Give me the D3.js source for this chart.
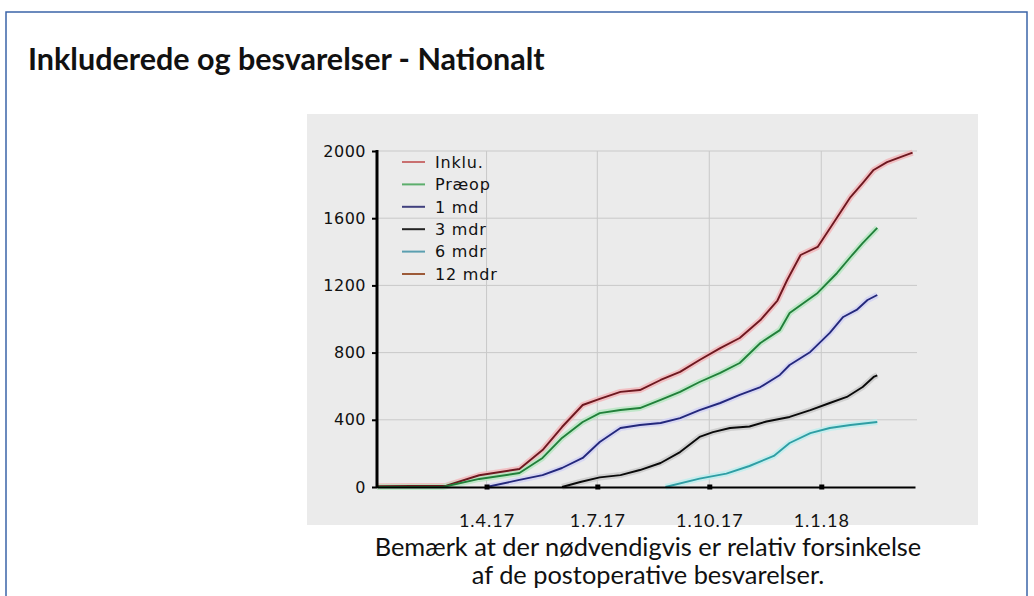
<!DOCTYPE html>
<html>
<head>
<meta charset="utf-8">
<script src="https://cdn.jsdelivr.net/npm/d3@7"></script>
<style>
  body { margin: 0; background: #fff; }
  svg { display: block; }
</style>
</head>
<body>
<div id="chart"></div>
<script>
// values: [date, count]
var inklu = [
    ['2017-01-01', 5], ['2017-02-27', 8], ['2017-03-26', 70], ['2017-04-28', 107],
    ['2017-05-17', 220], ['2017-06-02', 357], ['2017-06-19', 488], ['2017-07-03', 525],
    ['2017-07-20', 566], ['2017-08-05', 577], ['2017-08-22', 637], ['2017-09-07', 685],
    ['2017-09-23', 756], ['2017-10-10', 827], ['2017-10-26', 887], ['2017-11-12', 994],
    ['2017-11-26', 1110], ['2017-12-04', 1232], ['2017-12-15', 1381], ['2017-12-29', 1429],
    ['2018-01-11', 1571], ['2018-01-25', 1726], ['2018-02-04', 1809], ['2018-02-13', 1887],
    ['2018-02-24', 1934], ['2018-03-07', 1964], ['2018-03-17', 1990]
]
var praeop = [
    ['2017-01-01', 0], ['2017-02-24', 0], ['2017-03-26', 48], ['2017-04-28', 83],
    ['2017-05-17', 173], ['2017-06-02', 292], ['2017-06-19', 387], ['2017-07-03', 440],
    ['2017-07-20', 458], ['2017-08-05', 470], ['2017-08-22', 518], ['2017-09-07', 566],
    ['2017-09-23', 625], ['2017-10-10', 679], ['2017-10-26', 738], ['2017-11-12', 857],
    ['2017-11-28', 934], ['2017-12-06', 1036], ['2017-12-29', 1155], ['2018-01-14', 1274],
    ['2018-01-25', 1369], ['2018-02-04', 1452], ['2018-02-16', 1542]
]
var md1 = [
    ['2017-04-01', 0], ['2017-04-28', 42], ['2017-05-17', 71], ['2017-06-02', 113],
    ['2017-06-19', 173], ['2017-07-03', 268], ['2017-07-20', 351], ['2017-08-05', 369],
    ['2017-08-22', 381], ['2017-09-07', 410], ['2017-09-23', 458], ['2017-10-10', 500],
    ['2017-10-26', 548], ['2017-11-12', 595], ['2017-11-28', 667], ['2017-12-06', 726],
    ['2017-12-23', 804], ['2018-01-08', 917], ['2018-01-19', 1012], ['2018-01-30', 1054],
    ['2018-02-08', 1113], ['2018-02-16', 1143]
]
var mdr3 = [
    ['2017-06-02', 0], ['2017-06-17', 30], ['2017-07-03', 57], ['2017-07-20', 71],
    ['2017-08-05', 101], ['2017-08-22', 143], ['2017-09-07', 208], ['2017-09-23', 298],
    ['2017-10-04', 327], ['2017-10-18', 351], ['2017-11-03', 360], ['2017-11-17', 390],
    ['2017-12-06', 417], ['2017-12-23', 458], ['2018-01-08', 500], ['2018-01-22', 536],
    ['2018-02-04', 595], ['2018-02-13', 655], ['2018-02-16', 665]
]
var mdr6 = [
    ['2017-08-26', 0], ['2017-09-23', 50], ['2017-10-15', 80], ['2017-11-03', 125],
    ['2017-11-23', 185], ['2017-12-06', 262], ['2017-12-23', 321], ['2018-01-08', 351],
    ['2018-01-25', 369], ['2018-02-16', 387]
]
var mdr12 = []

var seriesNames = ['Inklu.', 'Præop', '1 md', '3 mdr', '6 mdr', '12 mdr']
var seriesData = [inklu, praeop, md1, mdr3, mdr6, mdr12]

var yTicks = [0, 400, 800, 1200, 1600, 2000]
var xTickDates = ['2017-04-01', '2017-07-01', '2017-10-01', '2018-01-01']
var xTickLabels = ['1.4.17', '1.7.17', '1.10.17', '1.1.18']
var xDomain = ['2017-01-01', '2018-03-19']

var titleText = 'Inkluderede og besvarelser - Nationalt'
var noteLines = ['Bemærk at der nødvendigvis er relativ forsinkelse',
    'af de postoperative besvarelser.']

// styling
var lineColors = ['#6e1820', '#21803a', '#24287c', '#0a0a0a', '#2f9ea4', '#8a4a2a']
var haloColors = ['#f3b4b8', '#b5e6c0', '#d2d2f4', '#c9c9c9', '#bdeeee', '#f0c8b0']
var legendColors = ['#c97070', '#5cae6c', '#40407e', '#222222', '#5b9fb0', '#9c5a38']

var svgWidth = 1034,
    svgHeight = 596
var margin = { top: 151, left: 377 }
var width = 538,
    height = 336

var parse = d3.timeParse('%Y-%m-%d')

var svg = d3.select('#chart').append('svg')
    .attr('width', svgWidth)
    .attr('height', svgHeight)

// outer frame
svg.append('rect')
    .attr('x', 6).attr('y', 12)
    .attr('width', 1021).attr('height', 620)
    .attr('fill', 'none')
    .attr('stroke', '#3b64a8')
    .attr('stroke-width', 1.5)

// helper: scale font size so a text reaches a given width
function fitWidth(sel, target) {
    var fs = parseFloat(sel.attr('font-size'))
    var len = sel.node().getComputedTextLength()
    sel.attr('font-size', fs * target / len)
    return fs * target / len
}

var title = svg.append('text')
    .attr('x', 28).attr('y', 70)
    .attr('font-family', 'Lato, sans-serif')
    .attr('font-weight', 'bold')
    .attr('font-size', 26)
    .attr('fill', '#111')
    .text(titleText)
fitWidth(title, 517)

// chart panel
svg.append('rect')
    .attr('x', 307).attr('y', 114)
    .attr('width', 671).attr('height', 411)
    .attr('fill', '#ebebeb')

var g = svg.append('g')
    .attr('transform', 'translate(' + margin.left + ',' + margin.top + ')')

var xScale = d3.scaleTime()
    .domain(xDomain.map(parse))
    .range([0, width])

var yScale = d3.scaleLinear()
    .domain([0, 2000])
    .range([height, 0])

// grid
g.append('g')
    .selectAll('line')
    .data(yTicks.slice(1))
    .join('line')
    .attr('x1', 0).attr('x2', width + 2)
    .attr('y1', d => yScale(d)).attr('y2', d => yScale(d))
    .attr('stroke', '#c9c9c9')
    .attr('stroke-width', 1)

g.append('g')
    .selectAll('line')
    .data(xTickDates.map(parse))
    .join('line')
    .attr('x1', d => xScale(d)).attr('x2', d => xScale(d))
    .attr('y1', 0).attr('y2', height)
    .attr('stroke', '#c9c9c9')
    .attr('stroke-width', 1)

// series lines, each with a light halo underneath
var line = d3.line()
    .x(d => xScale(parse(d[0])))
    .y(d => yScale(d[1]))

seriesData.forEach((data, i) => {
    if (!data.length) return
    g.append('path')
        .datum(data)
        .attr('d', line)
        .attr('fill', 'none')
        .attr('stroke', haloColors[i])
        .attr('stroke-width', 6)
        .attr('stroke-linejoin', 'round')
        .attr('opacity', 0.8)
})
seriesData.forEach((data, i) => {
    if (!data.length) return
    g.append('path')
        .datum(data)
        .attr('d', line)
        .attr('fill', 'none')
        .attr('stroke', lineColors[i])
        .attr('stroke-width', 1.9)
        .attr('stroke-linejoin', 'round')
})

// x axis
var xAxis = g.append('g')
    .attr('transform', 'translate(0,' + height + ')')
    .call(d3.axisBottom(xScale)
        .tickValues(xTickDates.map(parse))
        .tickFormat((d, i) => xTickLabels[i])
        .tickSize(0)
        .tickSizeOuter(0)
        .tickPadding(27))
xAxis.select('.domain').attr('stroke', '#000').attr('stroke-width', 2)
xAxis.selectAll('text')
    .attr('font-family', 'Lato, sans-serif')
    .attr('font-size', 18)
    .attr('letter-spacing', 1)
    .attr('fill', '#111')
xAxis.selectAll('.tick')
    .append('rect')
    .attr('x', -2.5).attr('y', -2.5)
    .attr('width', 5).attr('height', 5)
    .attr('fill', '#000')

// y axis
var yAxis = g.append('g')
    .call(d3.axisLeft(yScale)
        .tickValues(yTicks)
        .tickFormat(d3.format('d'))
        .tickSize(5)
        .tickSizeOuter(0)
        .tickPadding(6))
yAxis.select('.domain').remove()
yAxis.selectAll('.tick line').attr('stroke', '#000').attr('stroke-width', 2)
yAxis.selectAll('text')
    .attr('font-family', 'DejaVu Sans, sans-serif')
    .attr('font-size', 16)
    .attr('letter-spacing', 0.5)
    .attr('fill', '#111')

// the thick vertical axis line, drawn as a filled bar
g.append('rect')
    .attr('class', 'y-axis-bar')
    .attr('x', -1.5)
    .attr('y', yScale(2000) - 1)
    .attr('width', 3)
    .attr('height', yScale(0) - yScale(2000) + 2)
    .style('fill', '#000')

// legend
var legend = g.append('g')
    .attr('transform', 'translate(25,' + (yScale(2000) + 11) + ')')

var items = legend.selectAll('g')
    .data(seriesNames)
    .join('g')
    .attr('transform', (d, i) => 'translate(0,' + (i * 22.4) + ')')

items.append('line')
    .attr('x1', 0).attr('x2', 23)
    .attr('stroke', (d, i) => legendColors[i])
    .attr('stroke-width', 2)

items.append('text')
    .attr('x', 33)
    .attr('dy', '0.36em')
    .attr('font-family', 'DejaVu Sans, sans-serif')
    .attr('font-size', 16)
    .attr('letter-spacing', 0.8)
    .attr('fill', '#111')
    .text(d => d)

// note under the chart
var note = svg.append('g')
    .attr('font-family', 'Lato, sans-serif')
    .attr('fill', '#111')
    .attr('text-anchor', 'middle')

var n1 = note.append('text')
    .attr('x', 648).attr('y', 556)
    .attr('font-size', 24)
    .text(noteLines[0])
var fs = fitWidth(n1, 547)
note.append('text')
    .attr('x', 648).attr('y', 584)
    .attr('font-size', fs)
    .text(noteLines[1])
</script>
</body>
</html>
